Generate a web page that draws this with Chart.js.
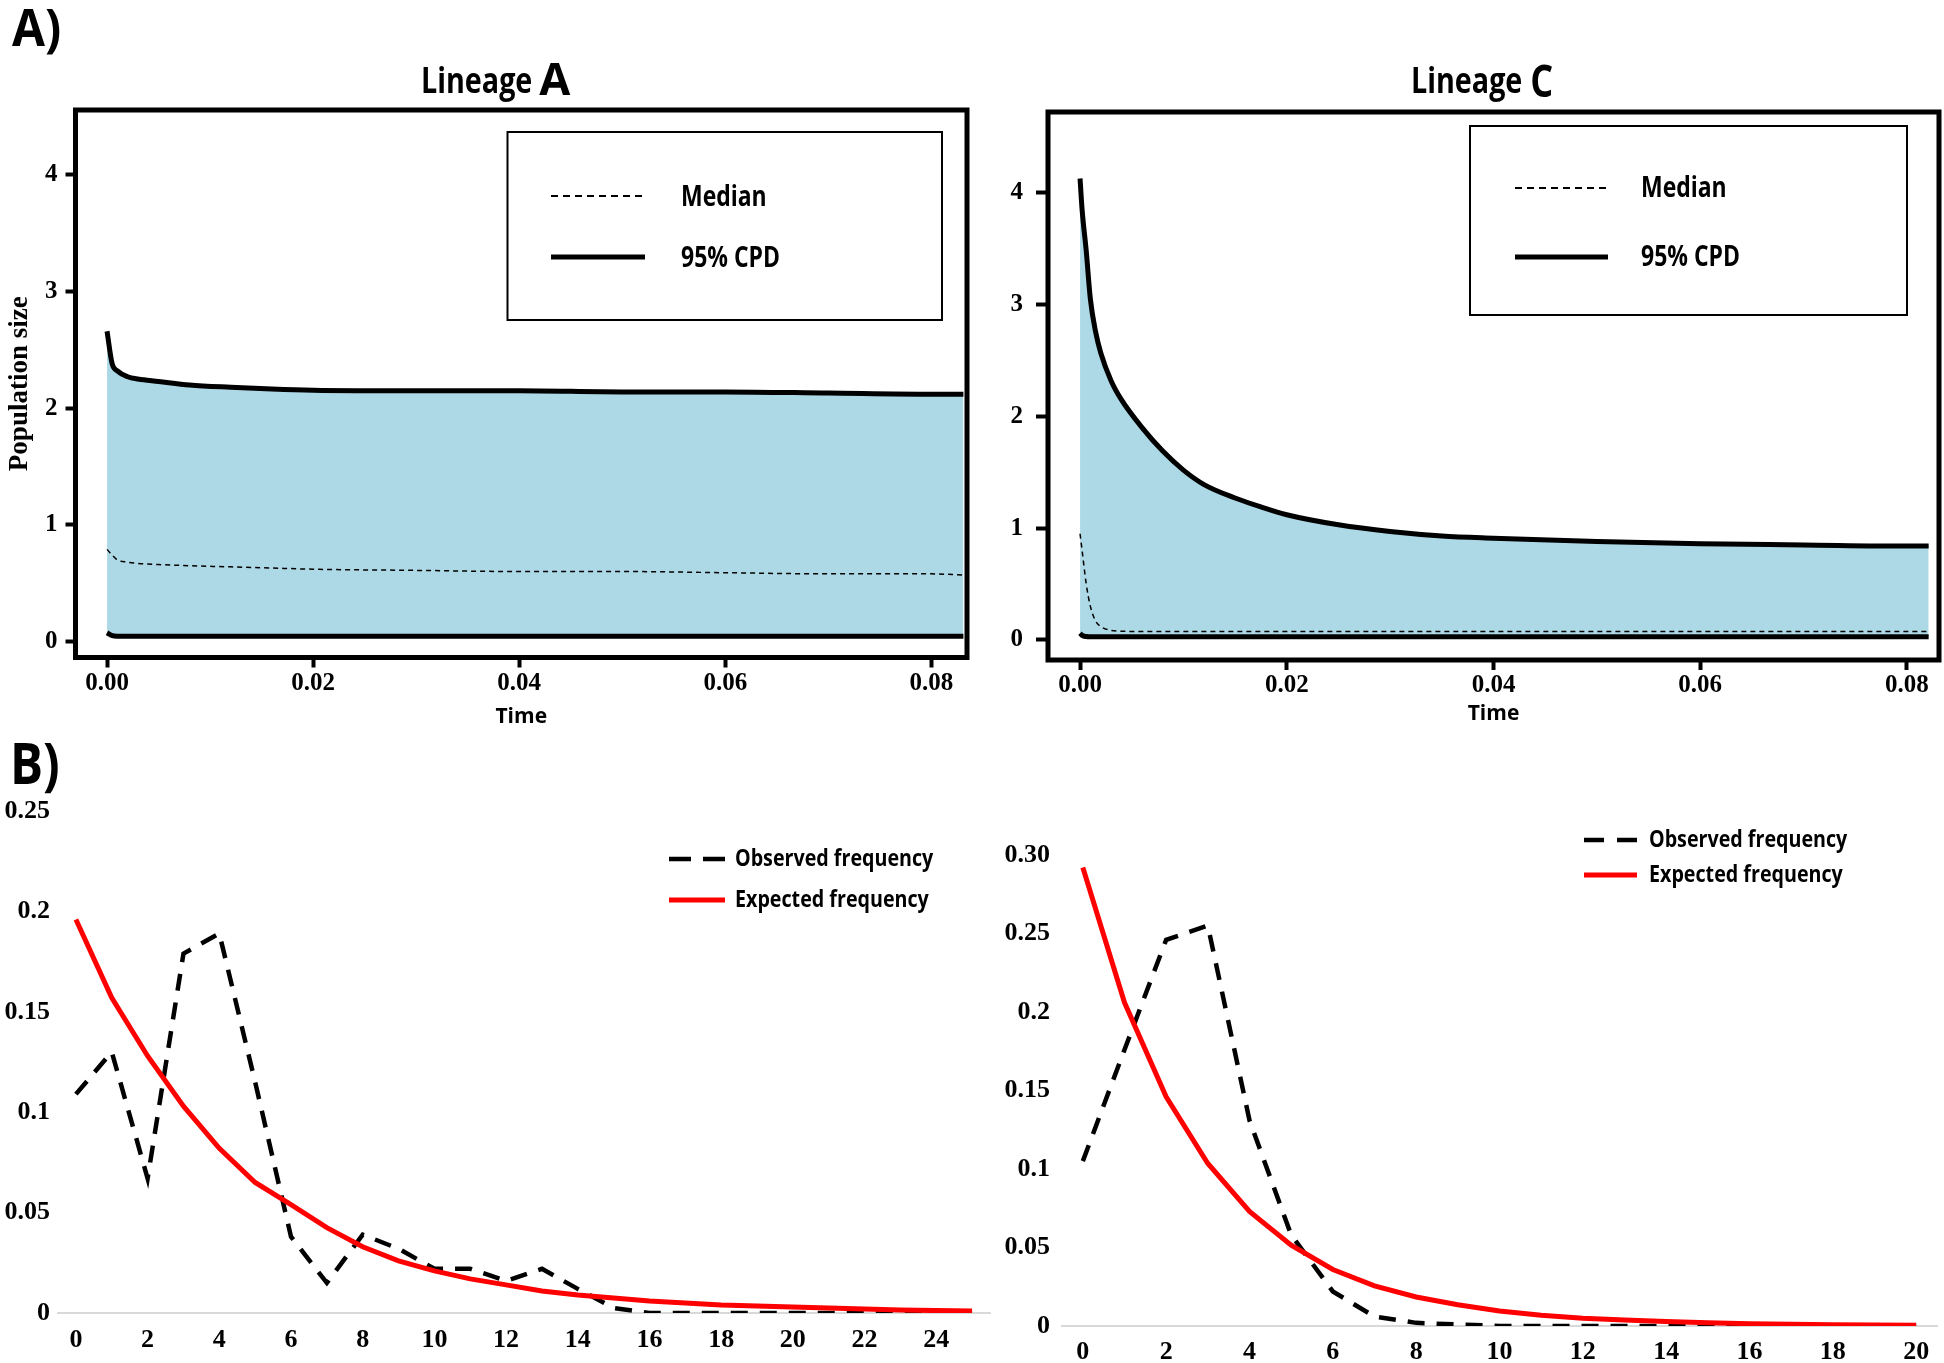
<!DOCTYPE html>
<html>
<head>
<meta charset="utf-8">
<script src="https://cdn.jsdelivr.net/npm/chart.js@4.4.1/dist/chart.umd.min.js"></script>
<style>
  html, body { margin: 0; padding: 0; background: #fff; }
  body { width: 1944px; height: 1363px; position: relative; overflow: hidden; }
  canvas { position: absolute; }
</style>
</head>
<body>
<canvas id="lineageA" width="985" height="745" style="left:0;top:0"></canvas>
<canvas id="lineageC" width="959" height="745" style="left:985px;top:0"></canvas>
<canvas id="freqA" width="1000" height="663" style="left:0;top:700px"></canvas>
<canvas id="freqC" width="944" height="663" style="left:1000px;top:700px"></canvas>
<script>
// ---- A) skyline data, Lineage A ----
const timeA   = [0, 0.0005, 0.001, 0.002, 0.003, 0.005, 0.008, 0.012, 0.016, 0.02, 0.03, 0.04, 0.05, 0.06, 0.07, 0.08, 0.0831];
const upperA  = [2.66, 2.38, 2.32, 2.27, 2.25, 2.23, 2.20, 2.18, 2.165, 2.155, 2.15, 2.15, 2.14, 2.14, 2.13, 2.12, 2.12];
const medianA = [0.79, 0.74, 0.70, 0.68, 0.67, 0.66, 0.65, 0.64, 0.63, 0.62, 0.61, 0.60, 0.60, 0.59, 0.58, 0.58, 0.57];
const lowerA  = [0.075, 0.05, 0.045, 0.045, 0.045, 0.045, 0.045, 0.045, 0.045, 0.045, 0.045, 0.045, 0.045, 0.045, 0.045, 0.045, 0.045];

// ---- A) skyline data, Lineage C ----
const timeC   = [0, 0.0002, 0.0006, 0.001, 0.0015, 0.002, 0.003, 0.004, 0.006, 0.008, 0.01, 0.012, 0.015, 0.0175, 0.02, 0.025, 0.03, 0.035, 0.04, 0.05, 0.06, 0.07, 0.08, 0.0821];
const upperC  = [4.13, 3.85, 3.48, 3.05, 2.76, 2.57, 2.32, 2.15, 1.90, 1.69, 1.52, 1.39, 1.27, 1.19, 1.12, 1.03, 0.97, 0.93, 0.91, 0.88, 0.86, 0.85, 0.84, 0.84];
const medianC = [0.95, 0.80, 0.50, 0.30, 0.17, 0.12, 0.085, 0.078, 0.075, 0.075, 0.075, 0.075, 0.075, 0.075, 0.075, 0.075, 0.075, 0.075, 0.075, 0.075, 0.075, 0.075, 0.075, 0.075];
const lowerC  = [0.06, 0.04, 0.03, 0.028, 0.027, 0.027, 0.027, 0.027, 0.027, 0.027, 0.027, 0.027, 0.027, 0.027, 0.027, 0.027, 0.027, 0.027, 0.027, 0.027, 0.027, 0.027, 0.027, 0.027];

const timeTicks = [0, 0.02, 0.04, 0.06, 0.08];
const popTicks  = [0, 1, 2, 3, 4];

// ---- B) mismatch distributions ----
const diffsA   = [0, 1, 2, 3, 4, 5, 6, 7, 8, 9, 10, 11, 12, 13, 14, 15, 16, 17, 18, 19, 20, 21, 22, 23, 24, 25];
const observedA = [0.109, 0.130, 0.067, 0.179, 0.189, 0.115, 0.038, 0.015, 0.039, 0.032, 0.022, 0.022, 0.016, 0.022, 0.012, 0.0025, 0, 0, 0, 0, 0, 0, 0, 0, 0, 0];
const expectedA = [0.196, 0.157, 0.128, 0.103, 0.082, 0.065, 0.054, 0.0425, 0.033, 0.026, 0.021, 0.017, 0.014, 0.011, 0.009, 0.0075, 0.006, 0.005, 0.004, 0.0035, 0.003, 0.0025, 0.002, 0.0015, 0.0012, 0.001];
const xTicksA  = [0, 2, 4, 6, 8, 10, 12, 14, 16, 18, 20, 22, 24];
const yTicksA  = [0, 0.05, 0.1, 0.15, 0.2, 0.25];
const yLabelsA = ['0', '0.05', '0.1', '0.15', '0.2', '0.25'];

const diffsC   = [0, 1, 2, 3, 4, 5, 6, 7, 8, 9, 10, 11, 12, 13, 14, 15, 16, 17, 18, 19, 20];
const observedC = [0.105, 0.176, 0.246, 0.255, 0.131, 0.058, 0.022, 0.006, 0.002, 0.001, 0, 0, 0, 0, 0, 0, 0, 0, 0, 0, 0];
const expectedC = [0.292, 0.206, 0.146, 0.1035, 0.073, 0.0515, 0.036, 0.0256, 0.0185, 0.0135, 0.0095, 0.0068, 0.005, 0.0038, 0.0028, 0.002, 0.0015, 0.0011, 0.0008, 0.0006, 0.0005];
const xTicksC  = [0, 2, 4, 6, 8, 10, 12, 14, 16, 18, 20];
const yTicksC  = [0, 0.05, 0.1, 0.15, 0.2, 0.25, 0.3];
const yLabelsC = ['0', '0.05', '0.1', '0.15', '0.2', '0.25', '0.30'];

const SANS = "'Open Sans', 'Noto Sans', sans-serif";
const SERIF = "'Liberation Serif', 'Times New Roman', serif";
const BAND = '#add8e6';
const SQUEEZE = 0.82;   // the figure's lettering is horizontally condensed

function pts(xs, ys) {
    return xs.map((x, i) => ({ x, y: ys[i] }));
}

// condensed text helper, returns drawn width
function squeezedText(ctx, text, x, y, sx) {
    ctx.save();
    ctx.translate(x, y);
    ctx.scale(sx, 1);
    ctx.fillText(text, 0, 0);
    ctx.restore();
    return ctx.measureText(text).width * sx;
}

// box drawn round the plot region (R style)
function frameBox(width) {
    return {
        id: 'frameBox',
        afterDatasetsDraw(chart) {
            const { ctx, chartArea: a } = chart;
            ctx.save();
            ctx.strokeStyle = '#000';
            ctx.lineWidth = width;
            ctx.strokeRect(a.left, a.top, a.right - a.left, a.bottom - a.top);
            ctx.restore();
        }
    };
}

// hand-placed key that reads labels and styles from the datasets
function lineKey(cfg) {
    return {
        id: 'lineKey',
        afterDraw(chart) {
            const ctx = chart.ctx;
            ctx.save();
            if (cfg.box) {
                ctx.strokeStyle = '#000';
                ctx.lineWidth = 2;
                ctx.strokeRect(cfg.box[0], cfg.box[1], cfg.box[2], cfg.box[3]);
            }
            ctx.font = cfg.font;
            ctx.textBaseline = 'middle';
            ctx.fillStyle = '#000';
            cfg.items.forEach(it => {
                const ds = chart.data.datasets[it.dataset];
                ctx.beginPath();
                ctx.strokeStyle = ds.borderColor;
                ctx.lineWidth = it.lineWidth || ds.borderWidth;
                ctx.setLineDash(it.dash || []);
                ctx.moveTo(cfg.x0, it.y);
                ctx.lineTo(cfg.x1, it.y);
                ctx.stroke();
                ctx.setLineDash([]);
                squeezedText(ctx, ds.label, cfg.textX, it.y + (cfg.textDy || 0), SQUEEZE);
            });
            ctx.restore();
        }
    };
}

// panel letters and titles
function panelText(items) {
    return {
        id: 'panelText',
        afterDraw(chart) {
            const ctx = chart.ctx;
            ctx.save();
            ctx.fillStyle = '#000';
            ctx.textBaseline = 'alphabetic';
            let end = 0;
            items.forEach(it => {
                ctx.font = it.font;
                const x = it.follow ? end + it.gap : it.x;
                end = x + squeezedText(ctx, it.text, x, it.y, it.sx || SQUEEZE);
            });
            ctx.restore();
        }
    };
}

function bandDatasets(t, lower, median, upper) {
    return [
        { label: '95% CPD', data: pts(t, lower), borderColor: '#000', borderWidth: 5, pointRadius: 0, fill: false, cubicInterpolationMode: 'monotone' },
        { label: 'Median', data: pts(t, median), borderColor: '#000', borderWidth: 1.5, borderDash: [5, 4], pointRadius: 0, fill: false, cubicInterpolationMode: 'monotone' },
        { label: '95% CPD', data: pts(t, upper), borderColor: '#000', borderWidth: 5, pointRadius: 0, fill: '-2', backgroundColor: BAND, cubicInterpolationMode: 'monotone' }
    ];
}

function bandOptions(o) {
    return {
        responsive: false,
        animation: false,
        events: [],
        layout: { padding: o.padding },
        plugins: { legend: { display: false }, tooltip: { enabled: false } },
        scales: {
            x: {
                type: 'linear', min: o.xMin, max: o.xMax,
                afterBuildTicks: s => { s.ticks = timeTicks.map(v => ({ value: v })); },
                afterFit: s => { s.height = o.xHeight; },
                grid: { display: true, drawOnChartArea: false, drawTicks: true, tickLength: 10, tickWidth: 4, tickColor: '#000' },
                border: { display: false },
                ticks: { color: '#000', font: { family: SERIF, size: 25, weight: 'bold' }, padding: 1, maxRotation: 0, autoSkip: false, callback: v => Number(v).toFixed(2) },
                title: { display: true, text: 'Time', color: '#000', font: { family: SANS, size: 21, weight: 'bold' }, padding: { top: 0, bottom: o.timePad } }
            },
            y: {
                type: 'linear', min: o.yMin, max: o.yMax,
                afterBuildTicks: s => { s.ticks = popTicks.map(v => ({ value: v })); },
                afterFit: s => { s.width = o.yWidth; },
                grid: { display: true, drawOnChartArea: false, drawTicks: true, tickLength: o.tickLen, tickWidth: 4, tickColor: '#000' },
                border: { display: false },
                ticks: { color: '#000', font: { family: SERIF, size: 25, weight: 'bold' }, padding: o.yPad, callback: v => String(v) },
                title: { display: !!o.yTitle, text: o.yTitle || '', color: '#000', font: { family: SERIF, size: 27, weight: 'bold' }, padding: { top: 4, bottom: 0 } }
            }
        }
    };
}

new Chart(document.getElementById('lineageA'), {
    type: 'line',
    data: { datasets: bandDatasets(timeA, lowerA, medianA, upperA) },
    options: bandOptions({
        padding: { left: 0, top: 110, right: 18, bottom: 5 },
        xMin: -0.00306, xMax: 0.08345, yMin: -0.137, yMax: 4.557,
        xHeight: 82.5, yWidth: 75.5, tickLen: 10, yPad: 8, timePad: 10,
        yTitle: 'Population size'
    }),
    plugins: [
        frameBox(5),
        lineKey({ box: [507.5, 132, 434.5, 188], font: 'bold 28px ' + SANS, x0: 551, x1: 645, textX: 681, textDy: 2,
                  items: [{ dataset: 1, y: 196, lineWidth: 2, dash: [7, 5] }, { dataset: 2, y: 257 }] }),
        panelText([
            { text: 'A)', x: 12, y: 46, font: 'bold 52px ' + SANS, sx: 0.92 },
            { text: 'Lineage', x: 421, y: 93, font: 'bold 35px ' + SANS },
            { text: 'A', follow: true, gap: 7, y: 95, font: 'bold 45px ' + SANS, sx: 1.0 }
        ])
    ]
});

new Chart(document.getElementById('lineageC'), {
    type: 'line',
    data: { datasets: bandDatasets(timeC, lowerC, medianC, upperC) },
    options: bandOptions({
        padding: { left: 0, top: 112, right: 5, bottom: 5 },
        xMin: -0.0031, xMax: 0.0831, yMin: -0.18, yMax: 4.725,
        xHeight: 80, yWidth: 63, tickLen: 12, yPad: 13, timePad: 13,
        yTitle: null
    }),
    plugins: [
        frameBox(5),
        lineKey({ box: [485, 126, 437, 189], font: 'bold 28px ' + SANS, x0: 530, x1: 623, textX: 656, textDy: 1,
                  items: [{ dataset: 1, y: 188, lineWidth: 2, dash: [7, 5] }, { dataset: 2, y: 257 }] }),
        panelText([
            { text: 'Lineage', x: 426, y: 93, font: 'bold 35px ' + SANS },
            { text: 'C', follow: true, gap: 8, y: 97, font: 'bold 45px ' + SANS, sx: 0.8 }
        ])
    ]
});

function freqOptions(o) {
    return {
        responsive: false,
        animation: false,
        events: [],
        layout: { padding: o.padding },
        plugins: { legend: { display: false }, tooltip: { enabled: false } },
        scales: {
            x: {
                type: 'linear', min: -0.5, max: o.xMax,
                afterBuildTicks: s => { s.ticks = o.xTicks.map(v => ({ value: v })); },
                afterFit: s => { s.height = o.xHeight; },
                grid: { display: false, drawTicks: false },
                border: { display: true, color: '#d9d9d9', width: 2 },
                ticks: { color: '#000', font: { family: SERIF, size: 26, weight: 'bold' }, padding: o.xPad, maxRotation: 0, autoSkip: false, callback: v => String(v) }
            },
            y: {
                type: 'linear', min: 0, max: o.yMax,
                afterBuildTicks: s => { s.ticks = o.yTicks.map(v => ({ value: v })); },
                afterFit: s => { s.width = o.yWidth; },
                grid: { display: false, drawTicks: false },
                border: { display: false },
                ticks: { color: '#000', font: { family: SERIF, size: 26, weight: 'bold' }, padding: o.yPad, callback: (v, i) => o.yLabels[i] }
            }
        }
    };
}

function freqDatasets(xs, obs, exp) {
    return [
        { label: 'Observed frequency', data: pts(xs, obs), borderColor: '#000', borderWidth: 4.5, borderDash: [17, 12], pointRadius: 0, tension: 0, fill: false, order: 1 },
        { label: 'Expected frequency', data: pts(xs, exp), borderColor: '#ff0000', borderWidth: 5, pointRadius: 0, tension: 0, fill: false, order: 0 }
    ];
}

new Chart(document.getElementById('freqA'), {
    type: 'line',
    data: { datasets: freqDatasets(diffsA, observedA, expectedA) },
    options: freqOptions({
        padding: { left: 0, top: 111, right: 10, bottom: 0 },
        xMax: 25.5, yMax: 0.25, xTicks: xTicksA, yTicks: yTicksA, yLabels: yLabelsA,
        xHeight: 50, yWidth: 58, xPad: 12, yPad: 8
    }),
    plugins: [
        lineKey({ box: null, font: 'bold 24px ' + SANS, x0: 669, x1: 725, textX: 735,
                  items: [{ dataset: 0, y: 159, dash: [22, 12] }, { dataset: 1, y: 200 }] }),
        panelText([{ text: 'B)', x: 10, y: 84, font: 'bold 58px ' + SANS, sx: 0.85 }])
    ]
});

new Chart(document.getElementById('freqC'), {
    type: 'line',
    data: { datasets: freqDatasets(diffsC, observedC, expectedC) },
    options: freqOptions({
        padding: { left: 0, top: 155, right: 7, bottom: 0 },
        xMax: 20.5, yMax: 0.3, xTicks: xTicksC, yTicks: yTicksC, yLabels: yLabelsC,
        xHeight: 37, yWidth: 62, xPad: 11, yPad: 12
    }),
    plugins: [
        lineKey({ box: null, font: 'bold 24px ' + SANS, x0: 584, x1: 637, textX: 649,
                  items: [{ dataset: 0, y: 140, dash: [20, 13] }, { dataset: 1, y: 175 }] })
    ]
});
</script>
</body>
</html>
